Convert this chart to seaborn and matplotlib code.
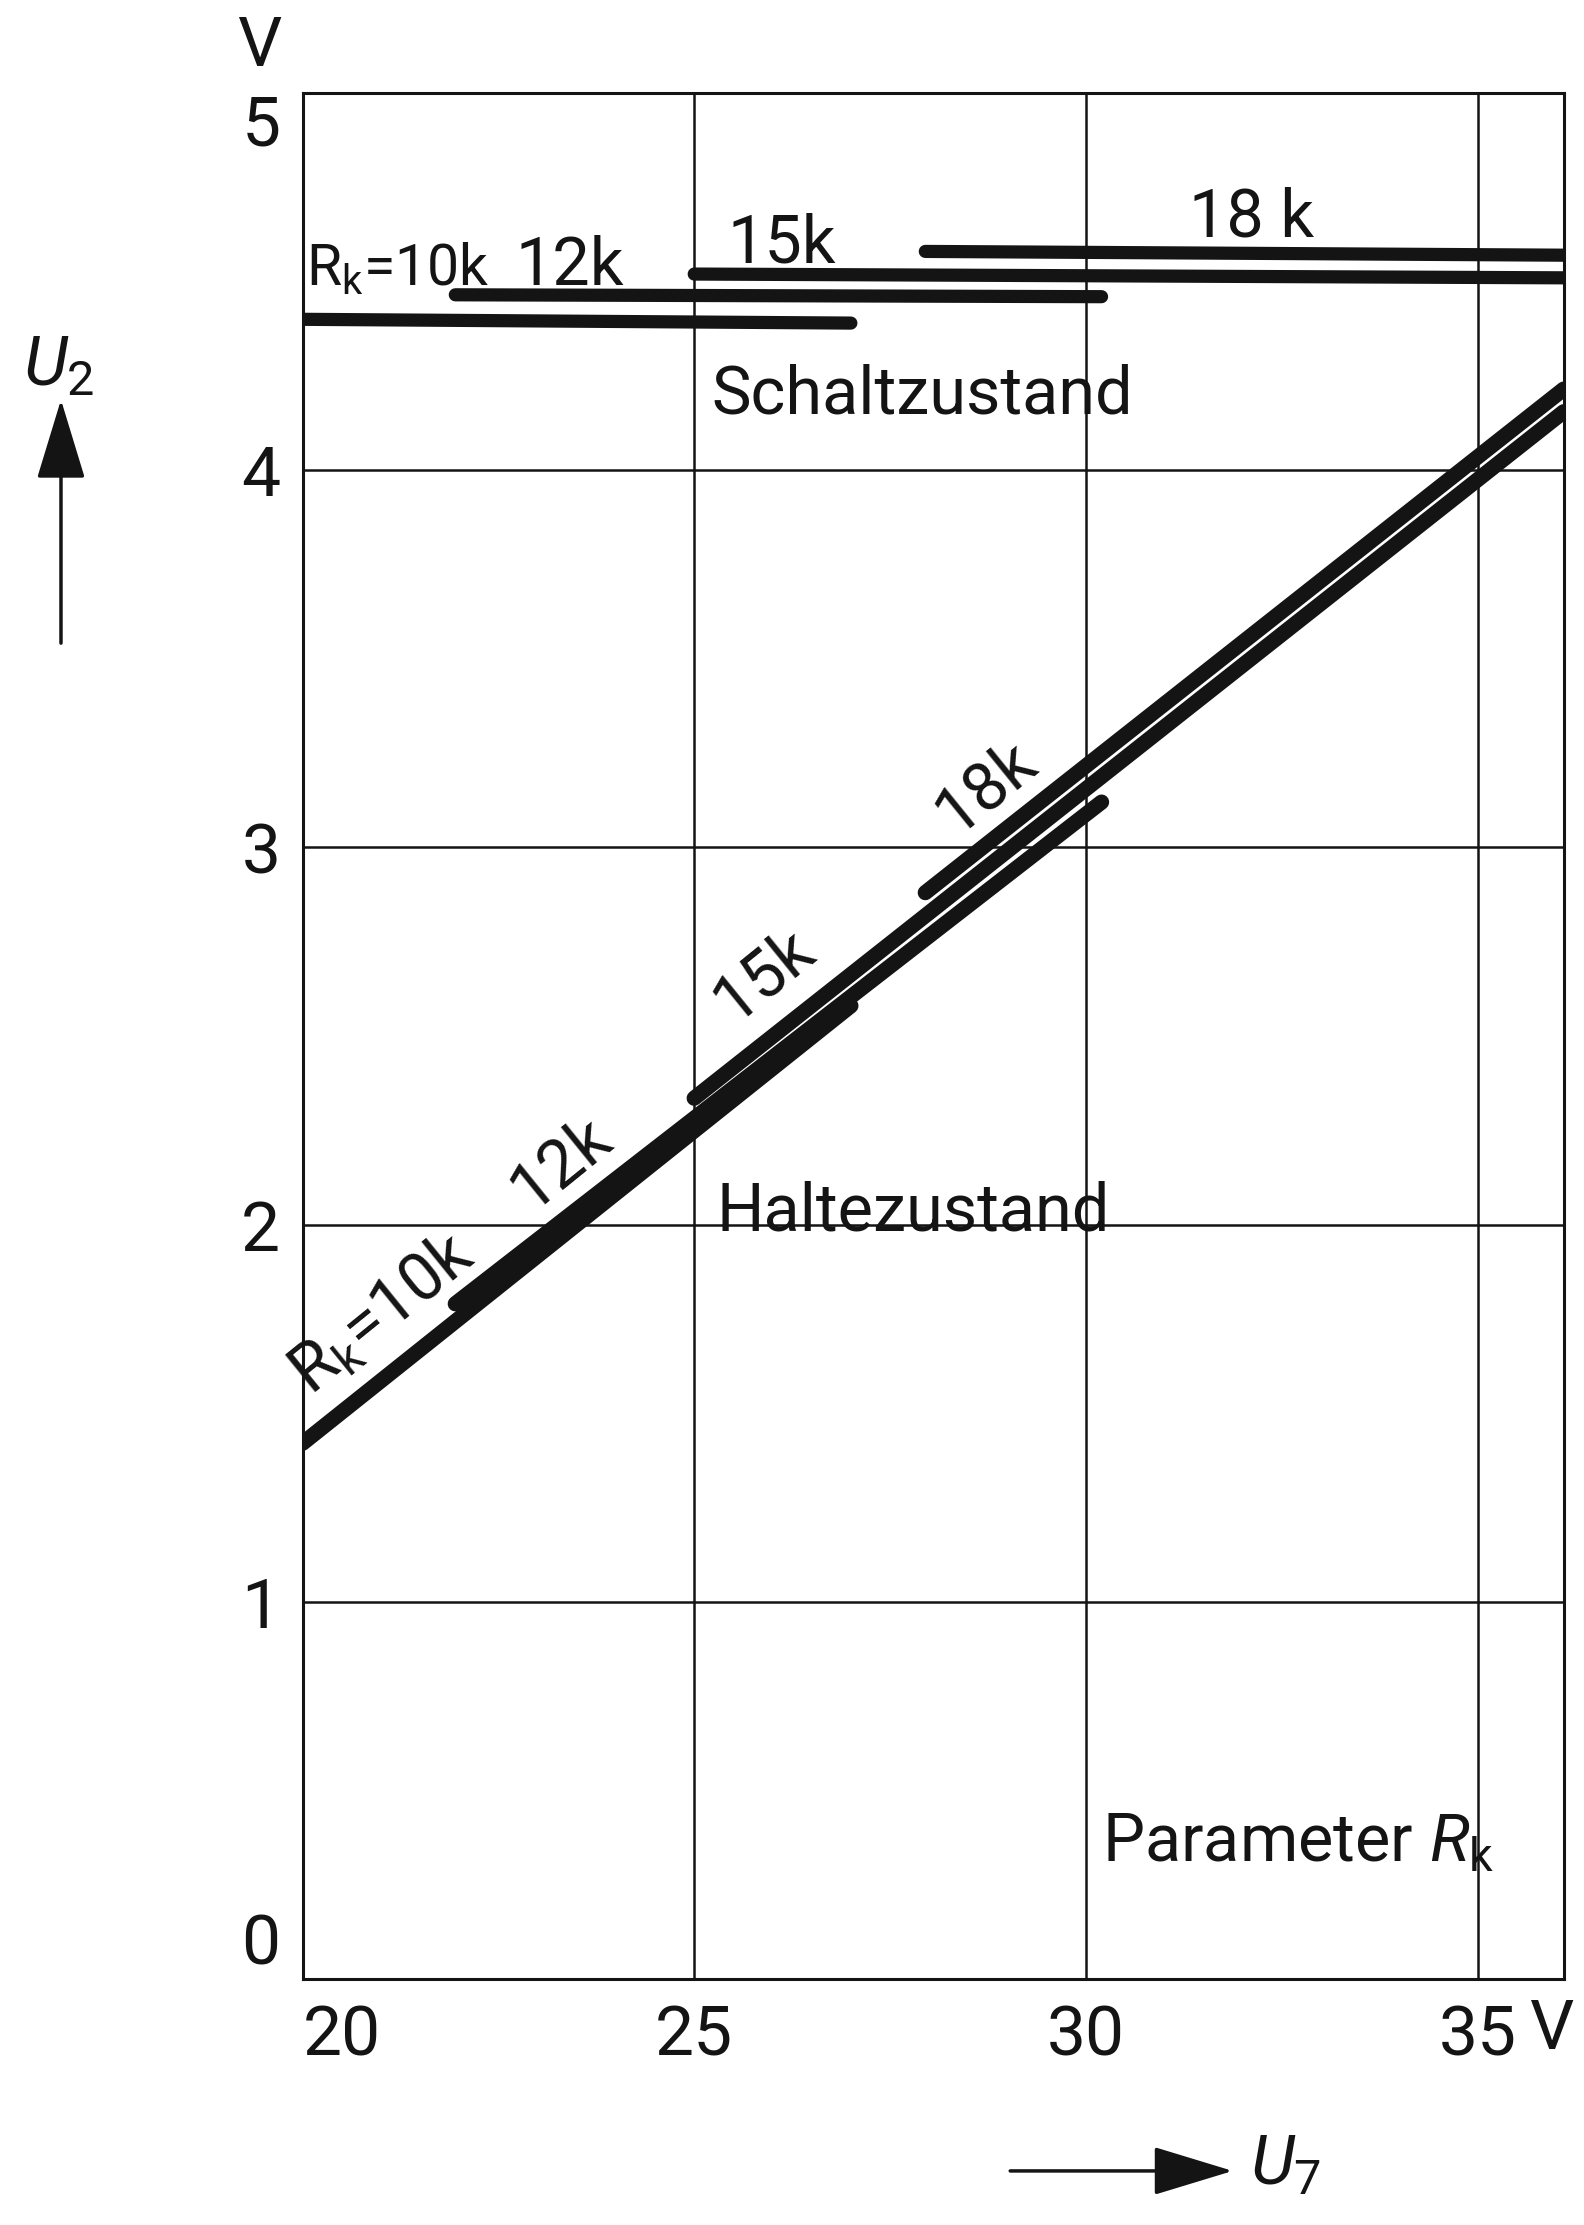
import matplotlib
matplotlib.use("Agg")
import matplotlib.pyplot as plt
import numpy as np
import pandas as pd
import seaborn as sns

# Kennlinien U2 = f(U7) mit Parameter Rk
rk_names = ["10k", "12k", "15k", "18k"]
u7_start = [20.0, 21.95, 25.0, 27.95]
u7_end = [27.0, 30.2, 36.1, 36.1]
u2_switch_start = [4.40, 4.465, 4.52, 4.58]
u2_switch_end = [4.39, 4.46, 4.51, 4.57]
u2_hold_start = [1.42, 1.79, 2.335, 2.88]
u2_hold_end = [2.58, 3.12, 4.155, 4.215]

x_ticks = [20, 25, 30, 35]
x_ticklabels = ["20", "25", "30", "35"]
y_ticks = [0, 1, 2, 3, 4, 5]
y_ticklabels = ["0", "1", "2", "3", "4", "5"]

sns.set_theme(style="white")
FONT = ["Roboto", "DejaVu Sans"]
plt.rcParams["font.family"] = FONT
plt.rcParams["mathtext.fontset"] = "custom"
plt.rcParams["mathtext.rm"] = "Roboto"
plt.rcParams["mathtext.it"] = "Roboto:italic"
plt.rcParams["mathtext.default"] = "rm"

ink = "#141414"
fs = 48

rows = []
for name, x0, x1, s0, s1, h0, h1 in zip(rk_names, u7_start, u7_end,
                                        u2_switch_start, u2_switch_end,
                                        u2_hold_start, u2_hold_end):
    rows.append({"Rk": name, "Zustand": "Schalt", "U7": x0, "U2": s0})
    rows.append({"Rk": name, "Zustand": "Schalt", "U7": x1, "U2": s1})
    rows.append({"Rk": name, "Zustand": "Halte", "U7": x0, "U2": h0})
    rows.append({"Rk": name, "Zustand": "Halte", "U7": x1, "U2": h1})
df = pd.DataFrame(rows)

fig = plt.figure(figsize=(15.84, 22.25), dpi=100)
fig.patch.set_facecolor("white")
ax = fig.add_axes([0.191, 0.1106, 0.7962, 0.8476])
ax.set_facecolor("white")

sns.lineplot(data=df[df["Zustand"] == "Schalt"], x="U7", y="U2", units="Rk",
             estimator=None, color=ink, lw=9.5, solid_capstyle="round",
             legend=False, ax=ax, zorder=3)
sns.lineplot(data=df[df["Zustand"] == "Halte"], x="U7", y="U2", units="Rk",
             estimator=None, color=ink, lw=11, solid_capstyle="round",
             legend=False, ax=ax, zorder=3)

ax.set_xlim(20, 36.1)
ax.set_ylim(0, 5)
ax.set_xticks(x_ticks)
ax.set_xticklabels(x_ticklabels, fontsize=fs + 2, color=ink)
ax.set_yticks(y_ticks)
ax.set_yticklabels(y_ticklabels, fontsize=fs + 2, color=ink)
ax.tick_params(axis="both", length=0, colors=ink)
ax.tick_params(axis="x", pad=18)
ax.tick_params(axis="y", pad=16)
ax.grid(True, color=ink, lw=1.8, zorder=1)
for sp in ax.spines.values():
    sp.set_visible(True)
    sp.set_color(ink)
    sp.set_linewidth(2.2)
ax.set_xlabel("")
ax.set_ylabel("")

# tick label placement at the corners
xl = ax.get_xticklabels()
xl[0].set_ha("left")
yl = ax.get_yticklabels()
yl[0].set_va("bottom")
yl[-1].set_va("top")

# labels of the switching lines
top_kw = dict(fontsize=fs, color=ink, ha="left", va="baseline")
ax.text(20.05, 4.49, r"R$_\mathrm{k}$=10k", fontsize=41, color=ink,
        ha="left", va="baseline")
ax.text(22.72, 4.49, "12k", **top_kw)
ax.text(25.42, 4.55, "15k", **top_kw)
ax.text(31.32, 4.62, "18 k", **top_kw)
ax.text(25.22, 4.15, "Schaltzustand", **top_kw)

# labels along the holding characteristic
rot_kw = dict(fontsize=fs, color=ink, ha="center", va="center",
              rotation=39, rotation_mode="anchor")
ax.text(21.03, 1.76, r"R$_\mathrm{k}$=10k", **rot_kw)
ax.text(23.30, 2.16, "12k", **rot_kw)
ax.text(25.89, 2.66, "15k", **rot_kw)
ax.text(28.73, 3.16, "18k", **rot_kw)
ax.text(25.29, 1.985, "Haltezustand", **top_kw)
ax.text(30.2, 0.31, r"Parameter $\mathit{R}_\mathrm{k}$", **top_kw)

# units
fig.text(0.1635, 0.979, "V", fontsize=fs + 2, color=ink, ha="center", va="center")
fig.text(0.979, 0.0876, "V", fontsize=fs + 2, color=ink, ha="center", va="center")

# axis arrows with quantity symbols
arrow_style = "-|>,head_length=2.3,head_width=0.7"
fig.add_artist(matplotlib.patches.FancyArrowPatch(
    (0.0385, 0.7097), (0.0385, 0.8216), transform=fig.transFigure,
    arrowstyle=arrow_style, lw=2.5, color=ink, mutation_scale=22))
fig.text(0.037, 0.8355, r"$\mathit{U}_2$", fontsize=fs + 2, color=ink,
         ha="center", va="center")
fig.add_artist(matplotlib.patches.FancyArrowPatch(
    (0.636, 0.0243), (0.78, 0.0243), transform=fig.transFigure,
    arrowstyle=arrow_style, lw=2.5, color=ink, mutation_scale=22))
fig.text(0.789, 0.027, r"$\mathit{U}_7$", fontsize=fs + 2, color=ink,
         ha="left", va="center")

fig.savefig("out.png", dpi=100, facecolor="white")
